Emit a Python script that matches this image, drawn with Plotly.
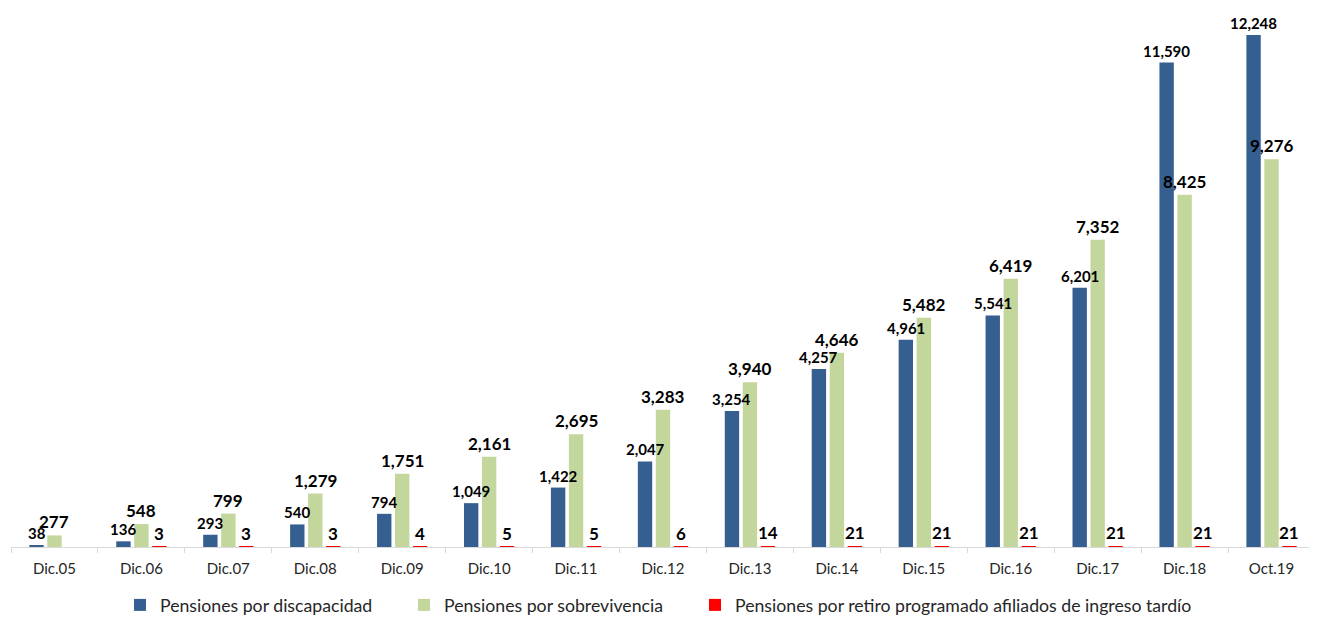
import plotly.graph_objects as go

categories = ["Dic.05", "Dic.06", "Dic.07", "Dic.08", "Dic.09", "Dic.10", "Dic.11", "Dic.12",
              "Dic.13", "Dic.14", "Dic.15", "Dic.16", "Dic.17", "Dic.18", "Oct.19"]
discapacidad = [38, 136, 293, 540, 794, 1049, 1422, 2047, 3254, 4257, 4961, 5541, 6201, 11590, 12248]
sobrevivencia = [277, 548, 799, 1279, 1751, 2161, 2695, 3283, 3940, 4646, 5482, 6419, 7352, 8425, 9276]
retiro = [None, 3, 3, 3, 4, 5, 5, 6, 14, 21, 21, 21, 21, 21, 21]

names = ["Pensiones por discapacidad", "Pensiones por sobrevivencia",
         "Pensiones por retiro programado afiliados de ingreso tardío"]

FONT = "Lato"
W, H = 1317, 628
ML, MR = 3, 10
PW = W - ML - MR
BARGAP = 0.38
colors = ["#365F91", "#C3D69B", "#FF0000"]
label_sizes = [15, 17, 17]
series = [discapacidad, sobrevivencia, retiro]
legend_x_px = [112, 396, 687]

fig = go.Figure()
for i, (vals, nm, col) in enumerate(zip(series, names, colors)):
    fig.add_trace(go.Bar(x=categories, y=vals, name=nm, marker_color=col,
                         marker_line_width=0, legend="legend" if i == 0 else f"legend{i+1}",
                         hoverinfo="x+y"))

# data labels drawn on top of all bars
cat_w = PW / len(categories)
slot = cat_w * (1 - BARGAP) / 3
annotations = []
for i, vals in enumerate(series):
    dx = (i - 1) * slot
    for k, v in enumerate(vals):
        if v is None:
            continue
        annotations.append(dict(x=categories[k], y=v, xref="x", yref="y", text=f"{v:,}",
                                showarrow=False, yanchor="bottom", xshift=dx, yshift=1,
                                font=dict(family=FONT, size=label_sizes[i], color="#000000",
                                          weight="bold")))

leg_common = dict(orientation="h", xanchor="left", y=-0.074, yanchor="top",
                  bgcolor="rgba(0,0,0,0)", font=dict(family=FONT, size=17.7, color="#262626"))

fig.update_layout(
    width=W, height=H,
    margin=dict(l=ML, r=MR, t=0, b=89),
    plot_bgcolor="white", paper_bgcolor="white",
    barmode="group", bargap=BARGAP, bargroupgap=0.2,
    font=dict(family=FONT, size=14, color="#404040"),
    showlegend=True,
    legend=dict(x=(legend_x_px[0] - ML) / PW, **leg_common),
    legend2=dict(x=(legend_x_px[1] - ML) / PW, **leg_common),
    legend3=dict(x=(legend_x_px[2] - ML) / PW, **leg_common),
    annotations=annotations,
)
fig.update_xaxes(type="category", tickangle=0,
                 showline=True, linecolor="#D9D9D9", linewidth=1, ticks="outside",
                 tickson="boundaries", ticklen=5, tickcolor="#D9D9D9", ticklabelstandoff=8,
                 tickfont=dict(family=FONT, size=15, color="#262626"), showgrid=False)
fig.update_yaxes(range=[0, 12895], visible=False, showgrid=False)

fig.write_html("out.html")
